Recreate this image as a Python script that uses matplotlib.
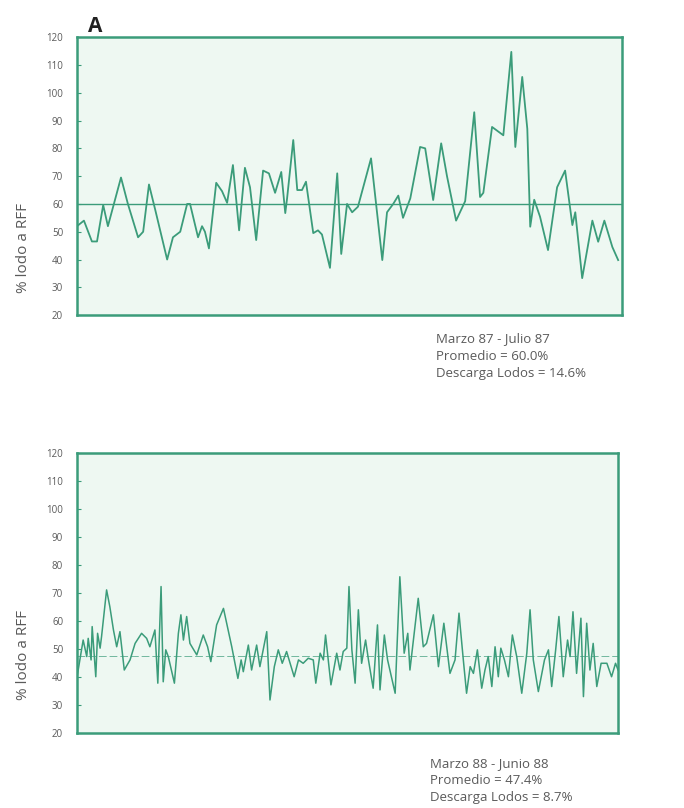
import matplotlib
matplotlib.use("Agg")
import matplotlib.pyplot as plt

plt.rcParams['font.family'] = ['Open Sans', 'DejaVu Sans']

# ---- Data: Marzo 87 - Julio 87 ----
days_87 = [0.0, 1.9, 4.1, 5.5, 7.2, 8.5, 12.1, 14.0, 16.8, 18.2, 19.8, 21.5, 24.8, 26.4,
           28.4, 30.3, 31.1, 33.3, 34.4, 35.2, 36.3, 38.3, 39.9, 41.3, 42.9, 44.6, 46.2,
           47.6, 49.3, 51.2, 52.8, 54.5, 56.2, 57.3, 57.8, 59.5, 60.6, 61.9, 63.0, 65.0,
           66.3, 67.4, 69.6, 71.6, 72.7, 74.3, 75.7, 77.3, 80.9, 84.0, 85.3, 87.0, 88.4,
           89.7, 91.7, 94.4, 95.8, 98.0, 100.2, 101.8, 104.3, 106.8, 109.3, 110.9, 111.8,
           114.2, 117.3, 119.5, 120.6, 122.5, 123.9, 124.7, 125.8, 127.4, 129.6, 132.1,
           134.3, 136.3, 137.1, 139.0, 141.8, 143.4, 145.1, 147.3, 148.9]
vals_87 = [52, 54, 46.5, 46.5, 59.6, 52, 69.5, 60, 48, 50, 67, 58, 40, 48,
           50, 60, 60, 48, 52, 50, 44, 67.6, 64.6, 60.4, 74, 50.5, 73,
           66, 47, 72, 71, 64, 71.5, 56.7, 62, 83, 65, 65, 68, 49.5,
           50.5, 49, 37, 71, 42, 60, 57, 59, 76.4, 39.8, 57, 60, 63,
           55, 62, 80.5, 80, 61.4, 81.8, 70, 54, 61, 93, 62.5, 64,
           87.7, 84.7, 114.7, 80.5, 105.7, 87, 51.8, 61.5, 55.4, 43.4, 66,
           72, 52.4, 57, 33.3, 54, 46.4, 54, 44.5, 39.8]
mean_87 = 60.0
desc_87 = 14.6

# ---- Data: Marzo 88 - Junio 88 ----
days_88 = [0, 1.7, 2.7, 3.1, 3.9, 4.2, 5.2, 5.7, 6.4, 6.8, 8.2, 9.1, 10.1, 11.0, 11.9,
           13.1, 14.7, 16.1, 17.9, 19.3, 20.2, 21.6, 22.4, 23.3, 23.9, 24.6, 25.3, 27.0,
           28.1, 28.8, 29.5, 30.4, 31.3, 33.2, 35.0, 36.2, 37.1, 38.7, 40.6, 41.9, 42.9,
           44.6, 45.5, 46.1, 47.5, 48.4, 49.8, 50.7, 52.6, 53.5, 54.7, 55.8, 56.9, 58.1,
           60.2, 61.4, 62.7, 64.1, 65.5, 66.2, 67.4, 68.3, 68.9, 70.4, 72.0, 72.9, 73.8,
           74.8, 75.4, 76.2, 77.1, 78.0, 78.9, 80.0, 80.8, 82.1, 83.3, 84.0, 85.2, 86.1,
           88.2, 89.5, 90.7, 91.7, 92.3, 94.6, 96.0, 96.9, 98.8, 100.2, 101.7, 103.4,
           104.8, 105.9, 107.1, 108.0, 109.0, 109.9, 111.0, 112.2, 113.1, 114.0, 115.0,
           115.9, 116.8, 117.5, 118.5, 119.6, 120.7, 121.9, 123.3, 124.7, 125.6, 126.5,
           127.9, 129.6, 130.7, 131.6, 132.7, 133.6, 134.8, 136.0, 136.7, 137.5, 138.5,
           139.7, 140.4, 141.3, 142.2, 143.1, 144.1, 145.3, 146.9, 148.2, 149.3, 150.0]
vals_88 = [40, 53.2, 47.3, 53.8, 46.1, 58, 40.1, 55.6, 50.3, 54.4, 71.1, 65.1, 56.8, 50.8, 56.2,
           42.5, 46.1, 52, 55.6, 53.8, 50.8, 56.8, 37.8, 72.3, 38.3, 49.7, 47.3, 37.8,
           55.6, 62.2, 53.2, 61.6, 52, 47.9, 55, 50.8, 45.5, 58.6, 64.5, 56.8, 50.8,
           39.5, 46.1, 41.9, 51.4, 42.5, 51.4, 43.7, 56.2, 31.8, 43.7, 49.7, 44.9, 49.1,
           40.1, 46.1, 44.9, 46.7, 46.1, 37.8, 48.5, 46.1, 55, 37.2, 48.5, 42.5, 49.1,
           50.3, 72.3, 49.7, 37.8, 64, 44.9, 53.2, 46.1, 36, 58.6, 35.4, 55, 46.1,
           34.2, 75.8, 48.5, 55.6, 42.5, 68.1, 50.8, 52, 62.2, 43.7, 59.2, 41.3,
           46.1, 62.8, 46.1, 34.2, 43.7, 41.3, 49.7, 36, 42.5, 47.3, 36.6,
           50.8, 40.1, 50.3, 46.1, 40.1, 55, 47.3, 34.2, 48.5, 64, 46.1,
           34.8, 46.1, 49.7, 36.6, 49.7, 61.6, 40.1, 53.2, 47.3, 63.3, 41.3,
           61, 33, 59.2, 42.5, 52, 36.6, 44.9, 44.9, 40.1, 44.9, 42.5]
mean_88 = 47.4
desc_88 = 8.7

yticks = [20, 30, 40, 50, 60, 70, 80, 90, 100, 110, 120]

GREEN = '#3b9c7a'
BG = '#eef8f2'
TXT = '#5a5a5a'

fig = plt.figure(figsize=(6.84, 8.08), dpi=100)
fig.patch.set_facecolor('white')

ax1 = fig.add_axes([0.1126, 0.610, 0.797, 0.344])
ax2 = fig.add_axes([0.1126, 0.0928, 0.791, 0.3466])


def style(ax, ylab_y):
    ax.set_facecolor(BG)
    ax.set_ylim(20, 120)
    ax.set_xlim(0, 150)
    ax.set_yticks(yticks)
    ax.set_yticklabels([str(t) for t in yticks], fontsize=7, color=TXT)
    ax.set_xticks([])
    ax.tick_params(axis='y', direction='in', length=3, width=0.8, color=GREEN, pad=10)
    for s in ax.spines.values():
        s.set_color(GREEN)
        s.set_linewidth(1.8)
    ax.set_ylabel('% lodo a RFF', fontsize=11, color=TXT)
    ax.yaxis.set_label_coords(-0.085, ylab_y)


style(ax1, 0.24)
style(ax2, 0.28)

ax1.plot(days_87, vals_87, color=GREEN, lw=1.3)
ax1.axhline(mean_87, color=GREEN, lw=1.0)
ax2.plot(days_88, vals_88, color=GREEN, lw=1.1)
ax2.axhline(mean_88, color=GREEN, lw=0.7, alpha=0.7, dashes=(8, 3))

fig.text(0.128, 0.967, 'A', fontsize=15, fontweight='bold', color='#222222', ha='left', va='center')

fig.text(0.638, 0.581, 'Marzo 87 - Julio 87', fontsize=9.5, color=TXT, ha='left', va='center')
fig.text(0.638, 0.559, 'Promedio = %.1f%%' % mean_87, fontsize=9.5, color=TXT, ha='left', va='center')
fig.text(0.638, 0.538, 'Descarga Lodos = %.1f%%' % desc_87, fontsize=9.5, color=TXT, ha='left', va='center')

fig.text(0.628, 0.055, 'Marzo 88 - Junio 88', fontsize=9.5, color=TXT, ha='left', va='center')
fig.text(0.628, 0.034, 'Promedio = %.1f%%' % mean_88, fontsize=9.5, color=TXT, ha='left', va='center')
fig.text(0.628, 0.013, 'Descarga Lodos = %.1f%%' % desc_88, fontsize=9.5, color=TXT, ha='left', va='center')

fig.savefig('out.png', dpi=100)
